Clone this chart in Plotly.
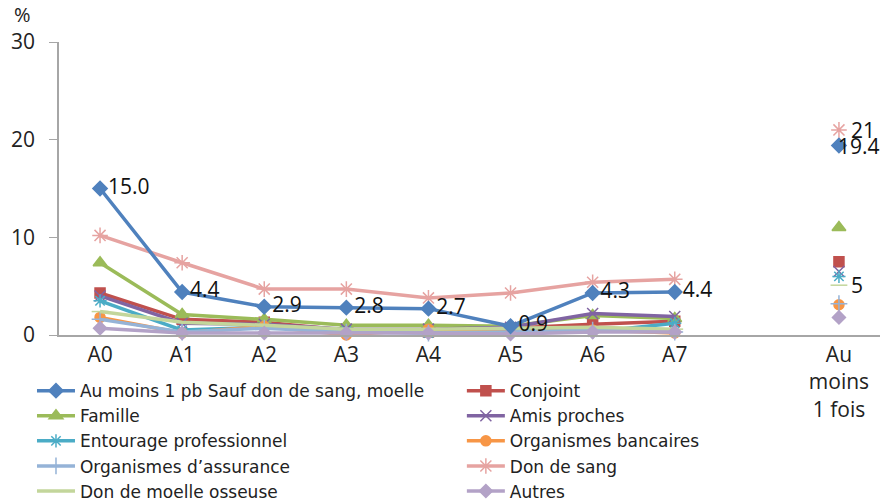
import plotly.graph_objects as go

categories = ["A0", "A1", "A2", "A3", "A4", "A5", "A6", "A7", "", "Au<br>moins<br>1 fois"]

s_au_moins = [15.0, 4.4, 2.9, 2.8, 2.7, 0.9, 4.3, 4.4, None, 19.4]
s_conjoint = [4.3, 1.6, 1.3, 0.5, 0.3, 0.7, 1.1, 1.4, None, 7.5]
s_famille = [7.4, 2.1, 1.6, 1.0, 1.0, 0.9, 2.0, 1.7, None, 11.0]
s_amis = [4.0, 1.2, 1.1, 0.6, 0.6, 0.8, 2.2, 1.9, None, 6.5]
s_entourage = [3.5, 0.5, 0.8, 0.4, 0.2, 0.5, 0.3, 1.2, None, 6.0]
s_banques = [1.8, 0.2, 0.9, 0.0, 0.6, 0.3, 0.5, 0.2, None, 3.1]
s_assurance = [1.6, 0.3, 0.7, 0.3, 0.2, 0.3, 0.5, 0.3, None, 3.2]
s_sang = [10.2, 7.4, 4.7, 4.7, 3.8, 4.3, 5.4, 5.7, None, 21.0]
s_moelle = [2.4, 1.3, 1.0, 0.6, 0.6, 0.7, 0.8, 0.6, None, 5.1]
s_autres = [0.7, 0.2, 0.2, 0.2, 0.2, 0.1, 0.3, 0.3, None, 1.8]

lbl_au_moins = ["15.0", "4.4", "2.9", "2.8", "2.7", "0.9", "4.3", "4.4", "", "19.4"]
lbl_sang = ["", "", "", "", "", "", "", "", "", "21"]
lbl_moelle = ["", "", "", "", "", "", "", "", "", "5"]

x = list(range(len(categories)))
FONT = "Open Sans, Lato, sans-serif"
LEG_FONT = "DejaVu Sans, Open Sans, sans-serif"

# name, values, colour, symbol, size, labels, legend
series = [
    ("Au moins 1 pb Sauf don de sang, moelle", s_au_moins, "#4F81BD", "diamond", 11, lbl_au_moins, "legend"),
    ("Conjoint", s_conjoint, "#C0504D", "square", 10, None, "legend2"),
    ("Famille", s_famille, "#9BBB59", "triangle-up", 12, None, "legend"),
    ("Amis proches", s_amis, "#8064A2", "x-thin-open", 11, None, "legend2"),
    ("Entourage professionnel", s_entourage, "#4BACC6", "asterisk-open", 11, None, "legend"),
    ("Organismes bancaires", s_banques, "#F79646", "circle", 10, None, "legend2"),
    ("Organismes d\u2019assurance", s_assurance, "#95B3D7", "cross-thin-open", 12, None, "legend"),
    ("Don de sang", s_sang, "#E6A3A1", "asterisk-open", 13, lbl_sang, "legend2"),
    ("Don de moelle osseuse", s_moelle, "#C3D69B", "line-ew-open", 12, lbl_moelle, "legend"),
    ("Autres", s_autres, "#B3A2C7", "diamond", 10, None, "legend2"),
]

fig = go.Figure()
annotations = []
draw_order = [1, 2, 3, 4, 5, 6, 8, 9, 7, 0]
for idx in draw_order:
    name, vals, color, sym, size, labels, leg = series[idx]
    kw = {}
    mode = "lines+markers"
    if labels is not None:
        main_labels = [lab if i < 8 else "" for i, lab in enumerate(labels)]
        if any(main_labels):
            mode = "lines+markers+text"
            kw = dict(text=main_labels, textposition="middle right",
                      textfont=dict(size=21, color="#111", family=FONT))
        lab = labels[9]
        if lab:
            shift = -3 if idx == 0 else 10
            annotations.append(dict(
                x=x[9], y=vals[9], xref="x", yref="y", text=lab, showarrow=False,
                xanchor="left", yanchor="middle", xshift=shift,
                font=dict(size=21, color="#111", family=FONT)))
    fig.add_trace(go.Scatter(
        x=x, y=vals, name=name, mode=mode, legend=leg, legendrank=idx,
        line=dict(color=color, width=3.5),
        marker=dict(symbol=sym, size=size, color=color,
                    line=dict(color=color, width=1.5)),
        cliponaxis=False,
        **kw,
    ))

leg_common = dict(
    orientation="v", yanchor="top", y=-0.130, xanchor="left",
    font=dict(size=17, color="#222", family=LEG_FONT),
    itemwidth=38, bgcolor="rgba(0,0,0,0)", traceorder="normal",
)

annotations.append(dict(
    text="%", xref="paper", yref="paper", x=-0.045, y=1.04,
    xanchor="center", yanchor="bottom", showarrow=False,
    font=dict(size=20, color="#222", family=FONT),
))

fig.update_layout(
    width=883, height=502,
    margin=dict(l=59, r=3, t=42, b=167, autoexpand=False),
    plot_bgcolor="white", paper_bgcolor="white",
    font=dict(family=FONT, color="#1a1a1a"),
    showlegend=True,
    legend=dict(x=-0.0329, **leg_common),
    legend2=dict(x=0.4907, **leg_common),
    xaxis=dict(
        tickmode="array", tickvals=x, ticktext=categories,
        range=[-0.5, 9.5], showgrid=False, zeroline=False,
        showline=True, linecolor="#a6a6a6", linewidth=1.5,
        ticks="", tickfont=dict(size=21, color="#222", family=FONT),
    ),
    yaxis=dict(
        range=[0, 30], tickvals=[0, 10, 20, 30], showgrid=False, zeroline=False,
        showline=True, linecolor="#a6a6a6", linewidth=1.5,
        ticks="outside", ticklen=8, tickcolor="#a6a6a6", ticklabelstandoff=10,
        tickfont=dict(size=21, color="#222", family=FONT),
    ),
    annotations=annotations,
)

fig.write_html("out.html", config={"displayModeBar": False},
               post_script="document.body.style.margin='0';document.body.style.overflow='hidden';")
